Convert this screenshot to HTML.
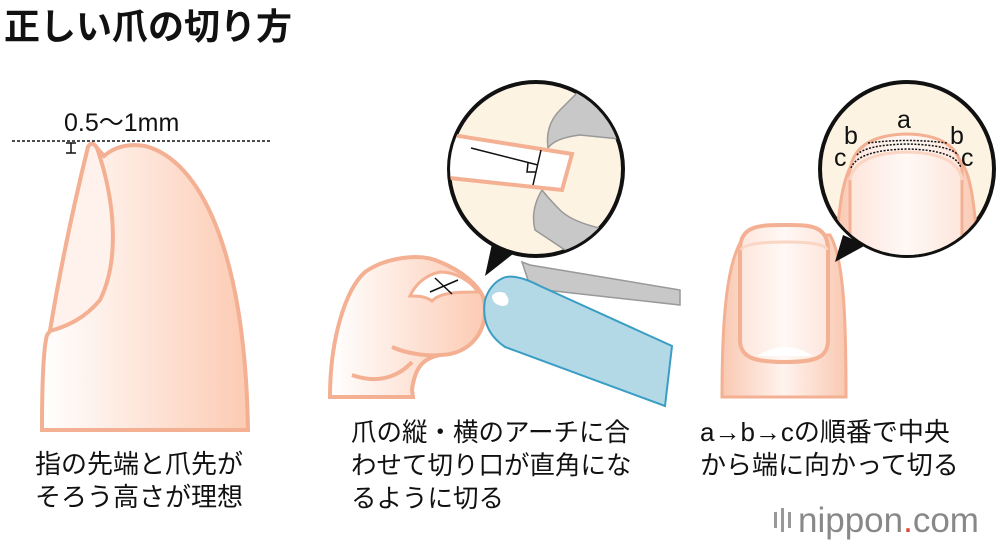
<!DOCTYPE html>
<html><head><meta charset="utf-8"><style>
body{margin:0;background:#fff;width:1000px;height:544px;overflow:hidden}
svg{display:block}
text{font-family:"Liberation Sans","Noto Sans CJK JP",sans-serif;fill:#111}
</style></head><body>
<svg width="1000" height="544" viewBox="0 0 1000 544" xmlns="http://www.w3.org/2000/svg">
<defs>
<linearGradient id="g1" x1="0" x2="1"><stop offset="0" stop-color="#fff"/><stop offset="1" stop-color="#fccbb3"/></linearGradient>
<linearGradient id="g2" x1="0" x2="1"><stop offset="0" stop-color="#f9c9b2"/><stop offset="0.5" stop-color="#fff3ee"/><stop offset="1" stop-color="#f9c9b2"/></linearGradient>
<linearGradient id="g3" x1="0" x2="1"><stop offset="0" stop-color="#fde6dc"/><stop offset="0.5" stop-color="#fff8f5"/><stop offset="1" stop-color="#fde6dc"/></linearGradient>
<clipPath id="c1"><circle cx="536" cy="169" r="86"/></clipPath>
<clipPath id="c2"><circle cx="907" cy="169" r="86"/></clipPath>
</defs>
<text x="4" y="39" font-size="36" font-weight="bold">正しい爪の切り方</text>

<text x="64" y="131" font-size="25">0.5〜1mm</text>
<path d="M42,430 C42,390 43,350 47,335 L50,331 C60,270 75,200 88,147 Q92,140 97,148 L104,156 Q120,142 145,146 C200,160 245,250 248,430 Z" fill="url(#g1)" stroke="#f4b093" stroke-width="4"/>
<path d="M50,331 C60,270 75,200 88,147 Q92,140 97,148 C115,200 120,260 100,300 C85,318 68,326 50,331Z" fill="#fff2ec" stroke="#f4b093" stroke-width="4"/>
<line x1="12" y1="141" x2="272" y2="141" stroke="#111" stroke-width="1.5" stroke-dasharray="3,2"/>
<path d="M66,143 h10 M71,143 v10 M66,153 h10" stroke="#111" stroke-width="1.5"/>

<path d="M330,397 C330,340 345,290 365,272 C385,258 420,252 440,262 C460,270 480,285 484,300 C490,330 470,355 440,355 C425,358 415,365 412,390 L413,397 Z" fill="url(#g1)" stroke="#f4b093" stroke-width="4"/>
<path d="M352,375 C380,385 400,375 412,362" fill="none" stroke="#f4b093" stroke-width="4"/>
<path d="M392,347 C410,355 430,356 440,355" fill="none" stroke="#f4b093" stroke-width="4"/>
<path d="M410,296 C415,285 425,275 440,272 C455,272 470,280 478,292 C460,292 440,292 432,301 C425,296 418,296 410,296Z" fill="#fff" stroke="#f4b093" stroke-width="3"/>
<path d="M430,292 L458,280 M435,278 L452,294" stroke="#111" stroke-width="1.5"/>
<path d="M522,262 L530,265 L680,290 L680,305 L545,290 L528,280 Z" fill="#c8c8c8" stroke="#999" stroke-width="1.5"/>
<path d="M497,283 Q510,272 530,282 L498,310 Q480,300 497,283Z" fill="#c8c8c8" stroke="#999" stroke-width="1.5"/>
<path d="M503,278 Q515,273 540,286 L672,346 L665,406 L505,347 Q480,330 485,300 Q490,284 503,278Z" fill="#b3d9e6" stroke="#3a9dc4" stroke-width="2"/>
<path d="M492,296 Q496,290 505,293 L508,298 Q510,306 502,306 Q492,304 492,296Z" fill="#fff"/>
<path d="M495,230 L485,276 L518,250 Z" fill="#111"/>
<circle cx="536" cy="169" r="87" fill="#fdf3e3" stroke="#111" stroke-width="4"/>
<g clip-path="url(#c1)">
<path d="M560,110 Q545,125 548,148 Q555,138 580,135 L630,140 L630,90 L580,90Z" fill="#c8c8c8" stroke="#999" stroke-width="1.5"/>
<path d="M542,190 Q530,210 535,230 L580,260 L620,232 Q575,225 560,210 Q550,200 542,190Z" fill="#c8c8c8" stroke="#999" stroke-width="1.5"/>
<path d="M440,133 L572,154 L562,190 L440,177 Z" fill="#fff"/>
<path d="M440,133 L572,154 L562,190 L440,177" fill="none" stroke="#f4b093" stroke-width="4"/>
<path d="M471,148 L538,165 M541,150 L533,185 M528,163 L527,172 L536,172" stroke="#111" stroke-width="1.5" fill="none"/>
</g>

<path d="M722,397 C722,330 725,260 745,235 L830,235 C845,260 846,330 846,397 Z" fill="url(#g2)" stroke="#f4b093" stroke-width="3"/>
<path d="M740,250 C740,225 760,225 785,225 C810,225 828,225 828,250 L828,340 C828,358 815,362 785,362 C755,362 740,358 740,340 Z" fill="url(#g3)" stroke="#f4b093" stroke-width="4"/>
<path d="M741,250 Q745,242 785,242 Q826,242 827,250" fill="none" stroke="#fbd5c4" stroke-width="3"/>
<path d="M757,356 Q785,338 813,356 Z" fill="#fff"/>
<path d="M843,235 L835,262 L866,245 Z" fill="#111"/>
<circle cx="907" cy="169" r="87" fill="#fdf3e3" stroke="#111" stroke-width="4"/>
<g clip-path="url(#c2)">
<path d="M836,260 C838,200 845,165 860,155 L955,155 C970,165 975,200 978,260 Z" fill="url(#g2)" stroke="#f4b093" stroke-width="3"/>
<path d="M850,260 L850,170 Q855,135 907,134 Q958,135 962,170 L962,260 Z" fill="url(#g3)" stroke="#f4b093" stroke-width="3"/>
<path d="M850,180 Q855,153 907,152 Q958,153 962,180" fill="none" stroke="#fbd5c4" stroke-width="3"/>
<path d="M868,143 Q907,138 947,143 M857,155 Q865,145 907,144 Q950,145 958,155 M851,168 Q858,150 907,149 Q956,150 961,168" fill="none" stroke="#111" stroke-width="1.5" stroke-dasharray="2,1.5"/>
</g>
<text x="897" y="128" font-size="25">a</text>
<text x="844" y="144" font-size="25">b</text>
<text x="950" y="144" font-size="25">b</text>
<text x="834" y="166" font-size="25">c</text>
<text x="961" y="166" font-size="25">c</text>

<text x="35" y="473" font-size="26">指の先端と爪先が</text>
<text x="35" y="506" font-size="26">そろう高さが理想</text>
<text x="351" y="441" font-size="25.5">爪の縦・横のアーチに合</text>
<text x="351" y="474" font-size="25.5">わせて切り口が直角にな</text>
<text x="351" y="507" font-size="25.5">るように切る</text>
<text x="700" y="441" font-size="26">a→b→cの順番で中央</text>
<text x="700" y="474" font-size="26">から端に向かって切る</text>

<g fill="#999"><rect x="774" y="512" width="3" height="16"/><rect x="781" y="508" width="3" height="24"/><rect x="788" y="512" width="3" height="16"/></g>
<text x="798" y="532" font-size="35" style="fill:#888">nippon<tspan style="fill:#e0443a">.</tspan>com</text>
</svg>
</body></html>
